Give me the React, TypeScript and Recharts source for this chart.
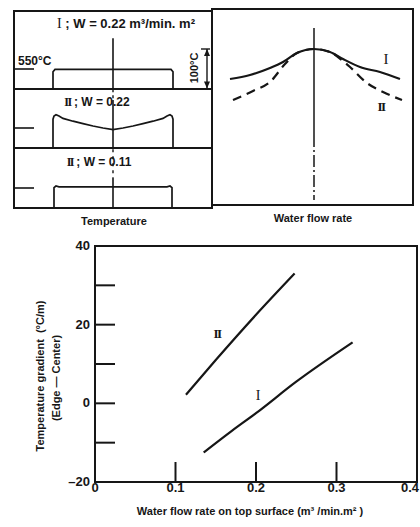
import React from 'react'
import { LineChart, Line, XAxis, YAxis, ReferenceLine, ReferenceDot, ReferenceArea } from 'recharts'

// top left: temperature across slab width (pos = distance from centre, temp in °C)
const profileI022 = [
  { pos: -60, temp: 500 }, { pos: -60, temp: 543 }, { pos: -58, temp: 549 },
  { pos: 58, temp: 549 }, { pos: 60, temp: 543 }, { pos: 60, temp: 500 },
]
const profileII022 = [
  { pos: -60, temp: 500 }, { pos: -60, temp: 572 }, { pos: -59, temp: 580 }, { pos: -57, temp: 583 },
  { pos: -54, temp: 580 }, { pos: -50, temp: 574 }, { pos: -40, temp: 567 }, { pos: -30, temp: 561 },
  { pos: -20, temp: 555 }, { pos: -10, temp: 550 }, { pos: 0, temp: 546 }, { pos: 10, temp: 550 },
  { pos: 20, temp: 555 }, { pos: 30, temp: 561 }, { pos: 40, temp: 567 }, { pos: 50, temp: 574 },
  { pos: 54, temp: 580 }, { pos: 57, temp: 583 }, { pos: 59, temp: 580 }, { pos: 60, temp: 572 },
  { pos: 60, temp: 500 },
]
const profileII011 = [
  { pos: -59, temp: 500 }, { pos: -59, temp: 551 }, { pos: -57, temp: 555 }, { pos: -54, temp: 553 },
  { pos: 54, temp: 553 }, { pos: 57, temp: 555 }, { pos: 59, temp: 551 }, { pos: 59, temp: 500 },
]

// top right: water flow rate across width
const flowI = [
  { pos: -84, w: 126 }, { pos: -64, w: 130 }, { pos: -44, w: 137 }, { pos: -31, w: 143 },
  { pos: -17, w: 152 }, { pos: 0, w: 156 }, { pos: 16, w: 153 }, { pos: 29, w: 146 },
  { pos: 46, w: 138 }, { pos: 66, w: 133 }, { pos: 86, w: 126 },
]
const flowII = [
  { pos: -81, w: 105 }, { pos: -61, w: 114 }, { pos: -44, w: 123 }, { pos: -29, w: 141 },
  { pos: -17, w: 152 }, { pos: 0, w: 156 }, { pos: 16, w: 153 }, { pos: 29, w: 144 },
  { pos: 36, w: 138 }, { pos: 53, w: 122 }, { pos: 69, w: 113 }, { pos: 88, w: 105 },
]

// bottom: temperature gradient vs water flow rate
const flowTicks = [0, 0.1, 0.2, 0.3, 0.4]
const flowTickMarks = [0.1, 0.2, 0.3]
const gradTicks = [-20, -10, 0, 10, 20, 30, 40]
const gradLabels = [-20, 0, 20, 40]
const gradTickMarks = [-10, 0, 10, 20, 30]
const gradientII = [
  { q: 0.113, g: 2.2 }, { q: 0.15, g: 11 }, { q: 0.2, g: 22.5 }, { q: 0.248, g: 33 },
]
const gradientI = [
  { q: 0.135, g: -12.5 }, { q: 0.17, g: -7 }, { q: 0.2, g: -2.5 }, { q: 0.25, g: 5.5 }, { q: 0.32, g: 15.5 },
]

const ink = '#161616'
const sans = "'Liberation Sans', Arial, sans-serif"
const serif = "'Liberation Serif', 'Times New Roman', serif"

const ArrowUp = ({ cx, cy }: any) => <path d={`M${cx},${cy} l-3,7 h6 z`} fill={ink} />
const ArrowDown = ({ cx, cy }: any) => <path d={`M${cx},${cy} l-3,-7 h6 z`} fill={ink} />

function ProfilePanel({ data, top, height, domain, children }: any) {
  return (
    <div style={{ position: 'absolute', left: 14, top, width: 198, height }}>
      <LineChart width={198} height={height} margin={{ top: 0, right: 0, bottom: 0, left: 0 }}>
        <XAxis type="number" dataKey="pos" domain={[-99, 99]} allowDataOverflow hide />
        <YAxis type="number" domain={domain} allowDataOverflow hide />
        {children}
        <ReferenceLine segment={[{ x: -99, y: 550 }, { x: -79, y: 550 }]} stroke={ink} strokeWidth={1.6} />
        <Line data={data} dataKey="temp" type="linear" stroke={ink} strokeWidth={1.7} dot={false} isAnimationActive={false} />
      </LineChart>
    </div>
  )
}

const GradTick = (props: any) => {
  const { x, y, payload } = props
  const v = payload.value
  return (
    <g>
      {gradTickMarks.includes(v) && <line x1={x} x2={x + 20} y1={y} y2={y} stroke={ink} strokeWidth={2} />}
      {gradLabels.includes(v) && (
        <text x={x - 5} y={y} dy={4} textAnchor="end" fontFamily={sans} fontWeight={700} fontSize={13} fill={ink}>
          {v < 0 ? `–${-v}` : v}
        </text>
      )}
    </g>
  )
}

const FlowTick = (props: any) => {
  const { x, y, payload } = props
  const v = payload.value
  const last = v === flowTicks[flowTicks.length - 1]
  return (
    <g>
      {flowTickMarks.includes(v) && <line x1={x} x2={x} y1={y} y2={y - 20} stroke={ink} strokeWidth={2} />}
      <text x={last ? x + 2 : x} y={y + 6} dy={4} textAnchor={last ? 'end' : 'middle'} fontFamily={sans} fontWeight={700} fontSize={13} fill={ink}>
        {v}
      </text>
    </g>
  )
}

const abs = (s: React.CSSProperties): React.CSSProperties => ({ position: 'absolute', whiteSpace: 'nowrap', ...s })

export default function App() {
  return (
    <div style={{ position: 'absolute', left: 0, top: 0, width: 420, height: 527, background: '#fff', color: ink, fontFamily: sans, fontWeight: 700, overflow: 'hidden' }}>
      {/* left frame: three temperature profiles */}
      <div style={abs({ left: 13, top: 10, width: 200, height: 199, border: `2px solid ${ink}`, boxSizing: 'border-box' })} />
      <div style={abs({ left: 13, top: 88, width: 200, height: 2, background: ink })} />
      <div style={abs({ left: 13, top: 147, width: 200, height: 2, background: ink })} />

      <ProfilePanel data={profileI022} top={11} height={78} domain={[500, 695]}>
        <ReferenceLine segment={[{ x: 0, y: 627 }, { x: 0, y: 500 }]} stroke={ink} strokeWidth={1.6} />
        <ReferenceLine segment={[{ x: 94, y: 600 }, { x: 94, y: 500 }]} stroke={ink} strokeWidth={1.4} />
        <ReferenceLine segment={[{ x: 88, y: 600 }, { x: 97, y: 600 }]} stroke={ink} strokeWidth={1.4} />
        <ReferenceDot x={94} y={600} r={0} shape={ArrowUp} />
        <ReferenceDot x={94} y={501} r={0} shape={ArrowDown} />
      </ProfilePanel>
      <ProfilePanel data={profileII022} top={89} height={59} domain={[500, 647.5]}>
        <ReferenceLine segment={[{ x: 0, y: 647 }, { x: 0, y: 620 }]} stroke={ink} strokeWidth={1.4} strokeDasharray="3 3" />
        <ReferenceLine segment={[{ x: 0, y: 620 }, { x: 0, y: 500 }]} stroke={ink} strokeWidth={1.6} />
      </ProfilePanel>
      <ProfilePanel data={profileII011} top={149} height={59} domain={[500, 647.5]}>
        <ReferenceLine segment={[{ x: 0, y: 647 }, { x: 0, y: 575 }]} stroke={ink} strokeWidth={1.4} strokeDasharray="3 4" />
        <ReferenceLine segment={[{ x: 0, y: 575 }, { x: 0, y: 500 }]} stroke={ink} strokeWidth={1.6} />
      </ProfilePanel>

      <div style={abs({ left: 126, top: 16, transform: 'translateX(-50%)', fontSize: 13 })}>
        <span style={{ fontFamily: serif, fontWeight: 400, fontSize: 14 }}>I</span> ; W = 0.22 m³/min. m²
      </div>
      <div style={abs({ left: 18, top: 54, fontSize: 12 })}>550°C</div>
      <div style={abs({ left: 194, top: 68, transform: 'translate(-50%,-50%) rotate(-90deg)', fontSize: 11 })}>100°C</div>
      <div style={abs({ left: 97, top: 95, transform: 'translateX(-50%)', fontSize: 12 })}>
        <span style={{ fontFamily: serif, letterSpacing: -1.5 }}>II</span> ; W = 0.22
      </div>
      <div style={abs({ left: 99, top: 155, transform: 'translateX(-50%)', fontSize: 12 })}>
        <span style={{ fontFamily: serif, letterSpacing: -1.5 }}>II</span> ; W = 0.11
      </div>
      <div style={abs({ left: 114, top: 215, transform: 'translateX(-50%)', fontSize: 11 })}>Temperature</div>

      {/* right frame: water flow rate */}
      <div style={abs({ left: 211, top: 8, width: 203, height: 198, border: `2px solid ${ink}`, boxSizing: 'border-box' })} />
      <div style={abs({ left: 212, top: 9, width: 201, height: 196 })}>
        <LineChart width={201} height={196} margin={{ top: 0, right: 0, bottom: 0, left: 0 }}>
          <XAxis type="number" dataKey="pos" domain={[-102, 99]} allowDataOverflow hide />
          <YAxis type="number" domain={[0, 196]} allowDataOverflow hide />
          <ReferenceLine segment={[{ x: 0, y: 177 }, { x: 0, y: 70 }]} stroke={ink} strokeWidth={1.5} />
          <ReferenceLine segment={[{ x: 0, y: 70 }, { x: 0, y: 5 }]} stroke={ink} strokeWidth={1.5} strokeDasharray="12 3 2 3" />
          <Line data={flowII} dataKey="w" type="monotone" stroke={ink} strokeWidth={2.2} strokeDasharray="9 6" dot={false} isAnimationActive={false} />
          <Line data={flowI} dataKey="w" type="monotone" stroke={ink} strokeWidth={2.2} dot={false} isAnimationActive={false} />
        </LineChart>
      </div>
      <div style={abs({ left: 386, top: 51, transform: 'translateX(-50%)', fontFamily: serif, fontWeight: 400, fontSize: 15 })}>I</div>
      <div style={abs({ left: 381, top: 99, transform: 'translateX(-50%)', fontFamily: serif, fontSize: 13, letterSpacing: -1.5 })}>II</div>
      <div style={abs({ left: 313, top: 212, transform: 'translateX(-50%)', fontSize: 11 })}>Water flow rate</div>

      {/* bottom: gradient vs flow rate */}
      <div style={abs({ left: 0, top: 230, width: 420, height: 297 })}>
        <LineChart width={420} height={297} margin={{ top: 16, right: 3, bottom: 15, left: 55 }}>
          <XAxis type="number" dataKey="q" domain={[0, 0.4]} ticks={flowTicks} allowDataOverflow
            height={30} tickSize={0} tickMargin={0} tickLine={false} axisLine={false} tick={FlowTick} interval={0} />
          <YAxis type="number" dataKey="g" domain={[-20, 40]} ticks={gradTicks} allowDataOverflow
            width={40} tickSize={0} tickMargin={0} tickLine={false} axisLine={false} tick={GradTick} interval={0} />
          <ReferenceArea x1={0} x2={0.4} y1={-20} y2={40} fill="none" stroke={ink} strokeWidth={2} />
          <Line data={gradientII} dataKey="g" type="monotone" stroke={ink} strokeWidth={2.2} dot={false} isAnimationActive={false} />
          <Line data={gradientI} dataKey="g" type="monotone" stroke={ink} strokeWidth={2.2} dot={false} isAnimationActive={false} />
        </LineChart>
      </div>
      <div style={abs({ left: 217, top: 326, transform: 'translateX(-50%)', fontFamily: serif, fontSize: 13, letterSpacing: -1.5 })}>II</div>
      <div style={abs({ left: 258, top: 388, transform: 'translateX(-50%)', fontFamily: serif, fontWeight: 400, fontSize: 14 })}>I</div>
      <div style={abs({ left: 40, top: 376, transform: 'translate(-50%,-50%) rotate(-90deg)', fontSize: 11 })}>
        Temperature gradient&nbsp;&nbsp;(°C/m)
      </div>
      <div style={abs({ left: 56, top: 378, transform: 'translate(-50%,-50%) rotate(-90deg)', fontSize: 11 })}>(Edge — Center)</div>
      <div style={abs({ left: 250, top: 505, transform: 'translateX(-50%)', fontSize: 11 })}>
        Water flow rate on top surface (m³ /min.m² )
      </div>
    </div>
  )
}
